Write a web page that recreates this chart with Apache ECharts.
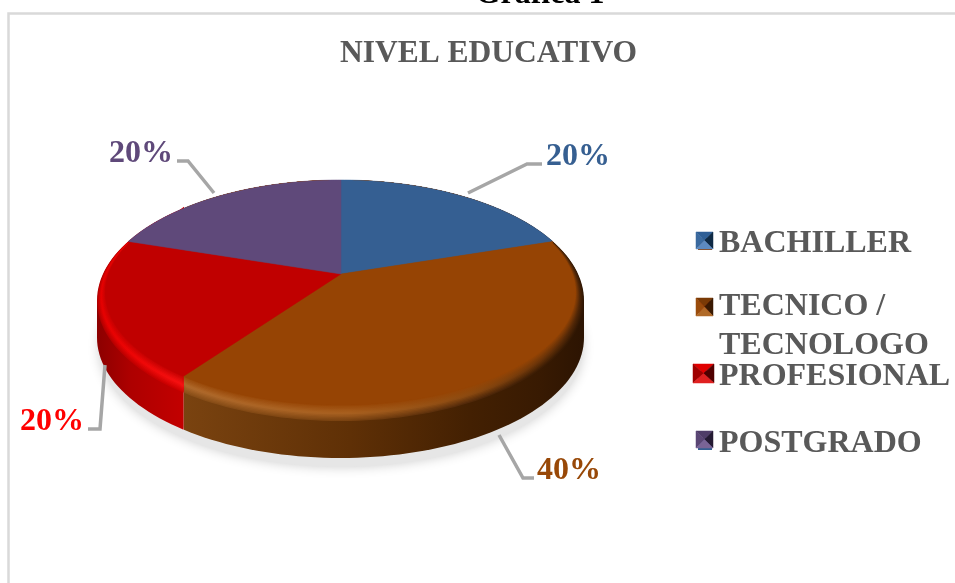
<!DOCTYPE html>
<html><head><meta charset="utf-8">
<style>html,body{margin:0;padding:0;background:#fff;overflow:hidden}#c{width:955px;height:583px}</style>
<script src="https://cdn.jsdelivr.net/npm/echarts@6/dist/echarts.min.js"></script>
</head><body><div id="c"></div>
<script>
const categories = ['BACHILLER', 'TECNICO / TECNOLOGO', 'PROFESIONAL', 'POSTGRADO'];
const values = [20, 40, 20, 20];
const sliceColors = ['#355f92', '#964404', '#c00000', '#5f497a'];
const labelColors = ['#365f91', '#984807', '#ff0000', '#5f497a'];

const FONT = '"Liberation Serif","Times New Roman",serif';
const total = values.reduce((a, b) => a + b, 0);
const starts = values.map((_, i) => values.slice(0, i).reduce((a, b) => a + b, 0) / total * 360);
const ends = values.map((_, i) => values.slice(0, i + 1).reduce((a, b) => a + b, 0) / total * 360);

// projected geometry of the tilted disc
const apex = [341, 274], spread = 2.12, wall = 37;
const outer = { cx: 340.5, cy: 300.5, rx: 243.5, ry: 120.5 };
const inner = { cx: 340.5, cy: 292.5, rx: 235, ry: 112.5 };
const rad = d => d * Math.PI / 180;

function hit(e, deg) {
  const dx = Math.sin(rad(deg)) * spread, dy = -Math.cos(rad(deg));
  const ox = (apex[0] - e.cx) / e.rx, oy = (apex[1] - e.cy) / e.ry;
  const ux = dx / e.rx, uy = dy / e.ry;
  const A = ux * ux + uy * uy, B = 2 * (ox * ux + oy * uy), C = ox * ox + oy * oy - 1;
  return (-B + Math.sqrt(B * B - 4 * A * C)) / (2 * A);
}
function rim(deg) {
  const dx = Math.sin(rad(deg)) * spread, dy = -Math.cos(rad(deg));
  const far = Math.cos(rad(deg)) >= 0.3;
  const t = far ? hit(outer, deg) : Math.min(hit(outer, deg), hit(inner, deg));
  return [apex[0] + dx * t, apex[1] + dy * t];
}
const splitX = rim(ends[1])[0];  // where the front slices meet on the wall
function blend(s) {
  const m = k => outer[k] + (inner[k] - outer[k]) * s;
  return { cx: m('cx'), cy: m('cy'), rx: m('rx'), ry: m('ry') };
}
function ellipsePts(e, clampFn) {
  const p = [];
  for (let a = 0; a < 360; a += 2) p.push([clampFn(e.cx + e.rx * Math.cos(rad(a))), e.cy + e.ry * Math.sin(rad(a))]);
  return p;
}
function wallPts(clampFn) {
  const e = outer, p = [[clampFn(e.cx - e.rx), e.cy]];
  for (let a = 180; a >= 0; a -= 2) p.push([clampFn(e.cx + e.rx * Math.cos(rad(a))), e.cy + wall + e.ry * Math.sin(rad(a))]);
  p.push([clampFn(e.cx + e.rx), e.cy]);
  return p;
}
function mix(c1, c2, t) {
  const h = c => [1, 3, 5].map(i => parseInt(c.slice(i, i + 2), 16));
  const a = h(c1), b = h(c2);
  return 'rgb(' + a.map((v, i) => Math.round(v + (b[i] - v) * t)).join(',') + ')';
}
const shadeFront = {
  1: { xs: [182, 350, 470, 540, 584],
       wall: ['#7a4310', '#5f3006', '#432002', '#381a02', '#2c1402'],
       low:  ['#8a4f18', '#7a4210', '#52290a', '#3c1d04', '#2e1603'],
       high: ['#b06a2c', '#a96120', '#8c4a10', '#6a3408', '#4a2306'] },
  2: { xs: [97, 130, 182],
       wall: ['#8c0000', '#ad0000', '#c20000'],
       low:  ['#b00000', '#c00000', '#cf0000'],
       high: ['#e60000', '#ef0505', '#f81212'] }
};
function grad(stops, xs) {
  return new echarts.graphic.LinearGradient(xs[0], 0, xs[xs.length - 1], 0,
    stops.map((c, i) => ({ offset: (xs[i] - xs[0]) / (xs[xs.length - 1] - xs[0]), color: c })), true);
}
const leaders = [
  { line: [[468, 193], [527, 164], [542, 164]], at: [578, 157] },
  { line: [[499, 435], [523, 478], [534, 478]], at: [569, 471] },
  { line: [[105, 365], [100, 429], [88, 429]], at: [52, 422] },
  { line: [[214, 193], [188, 161], [177, 161]], at: [141, 154] }
];

function renderSlice(idx) {
  return function (params, api) {
    const kids = [];
    const val = api.value(0);
    const a0 = starts[idx], a1 = ends[idx];
    const shade = shadeFront[idx];
    if (shade) {
      const clamp = idx === 1 ? (x => Math.max(x, splitX)) : (x => Math.min(x, splitX));
      kids.push({ type: 'polygon', z2: 2, shape: { points: wallPts(clamp) }, style: { fill: grad(shade.wall, shade.xs) } });
      const N = 12, peak = 0.45;
      for (let i = 0; i <= N; i++) {
        const s = i / N;
        const stops = shade.xs.map((_, j) => s < peak
          ? mix(shade.low[j], shade.high[j], s / peak)
          : mix(shade.high[j], sliceColors[idx], (s - peak) / (1 - peak)));
        kids.push({ type: 'polygon', z2: 3 + i, shape: { points: ellipsePts(blend(s), clamp) }, style: { fill: grad(stops, shade.xs) } });
      }
    }
    const top = [apex];
    for (let a = a0; a < a1; a += 1) top.push(rim(a));
    top.push(rim(a1));
    kids.push({ type: 'polygon', z2: 30, shape: { points: top }, style: { fill: sliceColors[idx], stroke: sliceColors[idx], lineWidth: 0.5 } });
    const L = leaders[idx];
    kids.push({ type: 'polyline', z2: 25, shape: { points: L.line }, style: { fill: null, stroke: '#a6a6a6', lineWidth: 3.5 } });
    kids.push({ type: 'text', z2: 40, x: L.at[0], y: L.at[1], style: {
      text: Math.round(val / total * 100) + '%', fill: labelColors[idx], font: 'bold 32px ' + FONT, align: 'center', verticalAlign: 'middle' } });
    return { type: 'group', children: kids };
  };
}

const legendTops = [228, 291, 361, 428];
const iconBoxes = [[696, 232], [696, 298], [693, 364], [696, 431]];
const iconSizes = [[17, 17], [17, 18], [21, 19], [17, 17]];
const iconTones = [
  ['#2f5f96', '#3b6a9f', '#0f2a45', '#5d8ac0'],
  ['#7a3a06', '#9a4c0c', '#3a1a02', '#b06a28'],
  ['#e00000', '#a00000', '#500000', '#e02020'],
  ['#4f3d68', '#5a4674', '#241a33', '#7a6496']
];
const graphicEls = [
  { type: 'rect', z: 0, shape: { x: 8.5, y: 13.5, width: 1000, height: 640 }, style: { fill: '#fff', stroke: '#d9d9d9', lineWidth: 2.5 } },
  { type: 'text', z: 1, x: 540, y: 11, style: { text: 'Gráfica 1', fill: '#000', font: 'bold 32px ' + FONT, align: 'center', verticalAlign: 'bottom' } },
  { type: 'text', z: 5, x: 719, y: 346, style: { text: 'TECNOLOGO', fill: '#595959', font: 'bold 32px ' + FONT, align: 'left', verticalAlign: 'middle' } }
];
iconBoxes.forEach((b, i) => {
  const [x, y] = b, [w, h] = iconSizes[i], t = iconTones[i];
  const mid = [x + w / 2, y + h / 2];
  const c = [[x, y], [x + w, y], [x + w, y + h], [x, y + h]];
  [[0, 1, t[0]], [3, 0, t[1]], [1, 2, t[2]], [2, 3, t[3]]].forEach(([p, q, col]) => {
    graphicEls.push({ type: 'polygon', z: 12, shape: { points: [c[p], c[q], mid] }, style: { fill: col, stroke: col, lineWidth: 0.5 } });
  });
});

const chart = echarts.init(document.getElementById('c'), null, { renderer: 'canvas' });
chart.setOption({
  animation: false,
  backgroundColor: '#fff',
  title: { text: 'NIVEL EDUCATIVO', left: 488.5, top: 54, textAlign: 'center', textVerticalAlign: 'middle',
    textStyle: { color: '#595959', fontFamily: FONT, fontWeight: 'bold', fontSize: 31.5 }, padding: 0 },
  legend: categories.map((name, i) => ({
    data: [name], left: 698, top: legendTops[i], orient: 'vertical', padding: 0, selectedMode: false,
    icon: 'rect', itemWidth: 14, itemHeight: 12, 
    formatter: n => n.split(' / ').length > 1 ? n.split(' / ')[0] + ' /' : n,
    textStyle: { color: '#595959', fontFamily: FONT, fontWeight: 'bold', fontSize: 32, padding: [0, 0, 0, 2] }
  })),
  graphic: { elements: graphicEls },
  color: sliceColors,
  series: [
    { type: 'custom', name: 'sombra', coordinateSystem: 'none', silent: true, data: [[1]],
      renderItem: () => ({ type: 'ellipse', z2: 1,
        shape: { cx: 341, cy: 347, rx: 242, ry: 120 },
        style: { fill: '#e6e6e6', shadowBlur: 12, shadowColor: '#cfcfcf' } }) }
  ].concat(categories.map((name, i) => ({
    type: 'custom', name, coordinateSystem: 'none', silent: true,
    data: [[values[i]]], renderItem: renderSlice(i)
  })))
});
</script></body></html>
